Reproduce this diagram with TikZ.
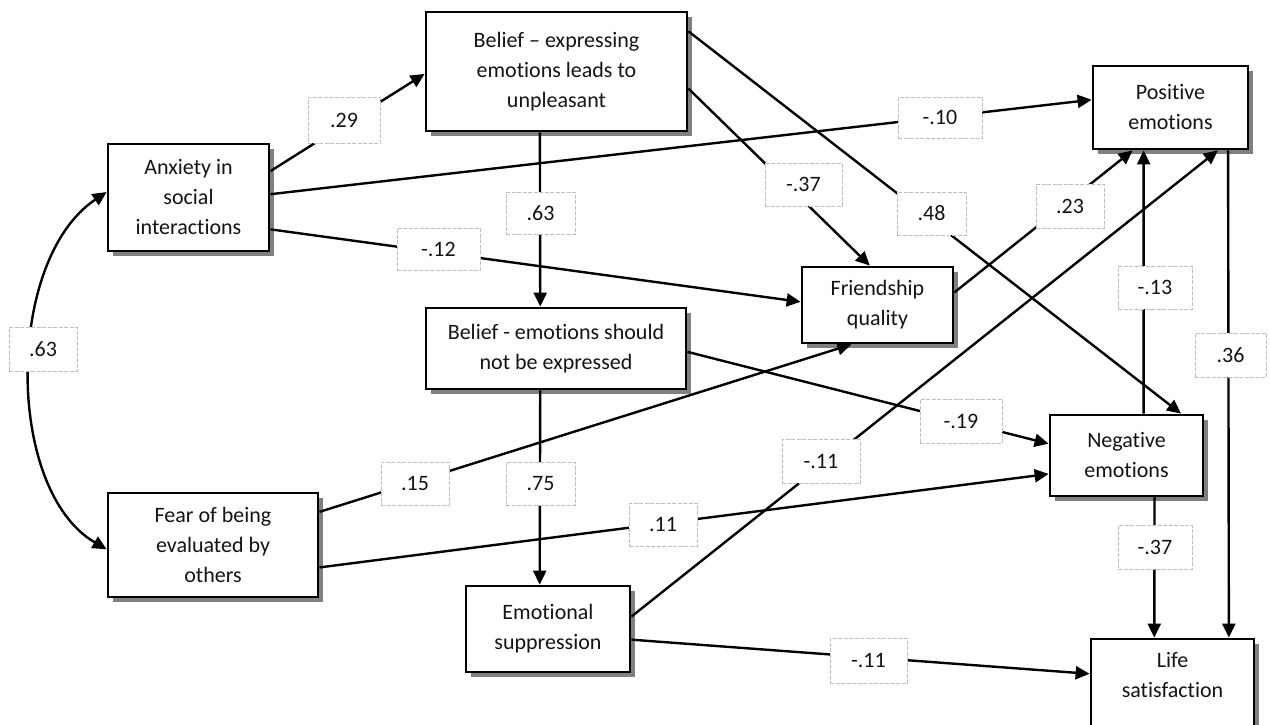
\documentclass[tikz,border=0pt]{standalone}
\usepackage{fontspec}
\setmainfont{Carlito}[Ligatures={TeX,NoCommon}]
\usetikzlibrary{arrows.meta,calc,shadows}
\begin{document}
\begin{tikzpicture}[x=1pt,y=-1pt,
  >={Triangle[length=14pt,width=13pt]},
  box/.style={draw=black, line width=2.8pt, fill=white, align=center, inner sep=0pt, text=black!92,
     font=\fontsize{22}{30}\selectfont,
     drop shadow={shadow xshift=5pt,shadow yshift=-5pt,fill=black!50,opacity=1}},
  coef/.style={draw=black!25, dash pattern=on 4pt off 1.5pt, line width=0.9pt, fill=white,
     inner sep=0pt, font=\fontsize{22}{26}\selectfont, text=black!92},
  conn/.style={line width=2.4pt, ->},
]
\useasboundingbox (0,0) rectangle (1270,724);

% boxes
\node[box, minimum width=161pt, minimum height=107pt] (anx) at (188.5,197.5) {Anxiety in\\social\\interactions};
\node[box, minimum width=261pt, minimum height=119pt] (bel1) at (556.5,71.5) {Belief -- expressing\\emotions leads to\\unpleasant};
\node[box, minimum width=155pt, minimum height=83pt] (pos) at (1170.5,107.5) {Positive\\emotions};
\node[box, minimum width=151pt, minimum height=76pt] (fri) at (877.5,305) {Friendship\\quality};
\node[box, minimum width=260pt, minimum height=81pt] (bel2) at (556,348.5) {Belief - emotions should\\not be expressed};
\node[box, minimum width=153pt, minimum height=81pt] (neg) at (1126.5,455.5) {Negative\\emotions};
\node[box, minimum width=210pt, minimum height=104pt] (fear) at (213,545) {Fear of being\\evaluated by\\others};
\node[box, minimum width=164pt, minimum height=86pt] (emo) at (548,629) {Emotional\\suppression};
\node[box, minimum width=163pt, minimum height=90pt] (life) at (1172.5,684) {Life\\satisfaction\\[-12pt]\mbox{}};

% connectors
\draw[conn] ($(anx.north east)!0.26!(anx.south east)$) -- ($(bel1.north west)!0.52!(bel1.south west)$);
\draw[conn] ($(anx.north east)!0.47!(anx.south east)$) -- ($(pos.north west)!0.41!(pos.south west)$);
\draw[conn] ($(anx.north east)!0.79!(anx.south east)$) -- ($(fri.north west)!0.46!(fri.south west)$);
\draw[line width=2.4pt,<->] ($(anx.north west)!0.45!(anx.south west)$) .. controls (5,260) and (5,490) .. ($(fear.north west)!0.54!(fear.south west)$);
\draw[conn] ($(bel1.south west)!0.437!(bel1.south east)$) -- ($(bel2.north west)!0.44!(bel2.north east)$);
\draw[conn] ($(bel1.north east)!0.64!(bel1.south east)$) -- ($(fri.north west)!0.45!(fri.north east)$);
\draw[conn] ($(bel1.north east)!0.17!(bel1.south east)$) -- ($(neg.north west)!0.85!(neg.north east)$);
\draw[conn] ($(fri.north east)!0.34!(fri.south east)$) -- ($(pos.south west)!0.26!(pos.south east)$);
\draw[conn] ($(neg.north west)!0.61!(neg.north east)$) -- ($(pos.south west)!0.33!(pos.south east)$);
\draw[conn] ($(emo.north east)!0.36!(emo.south east)$) -- ($(pos.south west)!0.80!(pos.south east)$);
\draw[conn] ($(pos.south west)!0.865!(pos.south east)$) -- ($(life.north west)!0.84!(life.north east)$);
\draw[conn] ($(bel2.south west)!0.44!(bel2.south east)$) -- ($(emo.north west)!0.45!(emo.north east)$);
\draw[conn] ($(bel2.north east)!0.54!(bel2.south east)$) -- ($(neg.north west)!0.36!(neg.south west)$);
\draw[conn] ($(fear.north east)!0.19!(fear.south east)$) -- ($(fri.south west)!0.33!(fri.south east)$);
\draw[conn] ($(fear.north east)!0.71!(fear.south east)$) -- ($(neg.north west)!0.72!(neg.south west)$);
\draw[conn] ($(neg.south west)!0.68!(neg.south east)$) -- ($(life.north west)!0.39!(life.north east)$);
\draw[conn] ($(emo.north east)!0.62!(emo.south east)$) -- ($(life.north west)!0.39!(life.south west)$);

% coefficients
\node[coef, minimum width=72pt, minimum height=46pt] (l29) at (344,120) {.29};
\node[coef, minimum width=84pt, minimum height=41pt] (l10) at (940,117.5) {-.10};
\node[coef, minimum width=77pt, minimum height=43pt] (l37a) at (803.5,184.5) {-.37};
\node[coef, minimum width=69pt, minimum height=42pt] (l63a) at (540.5,213) {.63};
\node[coef, minimum width=69pt, minimum height=43pt] (l48) at (931.5,213.5) {.48};
\node[coef, minimum width=68pt, minimum height=44pt] (l23) at (1070,206) {.23};
\node[coef, minimum width=83pt, minimum height=42pt] (l12) at (438.5,249) {-.12};
\node[coef, minimum width=74pt, minimum height=43pt] (l13) at (1155,287.5) {-.13};
\node[coef, minimum width=68pt, minimum height=44pt] (l63b) at (43,349) {.63};
\node[coef, minimum width=71pt, minimum height=44pt] (l36) at (1230.5,355) {.36};
\node[coef, minimum width=82pt, minimum height=44pt] (l19) at (961,421) {-.19};
\node[coef, minimum width=78pt, minimum height=44pt] (l11m) at (821,461) {-.11};
\node[coef, minimum width=68pt, minimum height=43pt] (l15) at (415,483.5) {.15};
\node[coef, minimum width=69pt, minimum height=43pt] (l75) at (540.5,483.5) {.75};
\node[coef, minimum width=68pt, minimum height=43pt] (l11) at (663,524.5) {.11};
\node[coef, minimum width=74pt, minimum height=44pt] (l37b) at (1155,547) {-.37};
\node[coef, minimum width=77pt, minimum height=45pt] (l11b) at (868.5,660.5) {-.11};
\end{tikzpicture}
\end{document}
